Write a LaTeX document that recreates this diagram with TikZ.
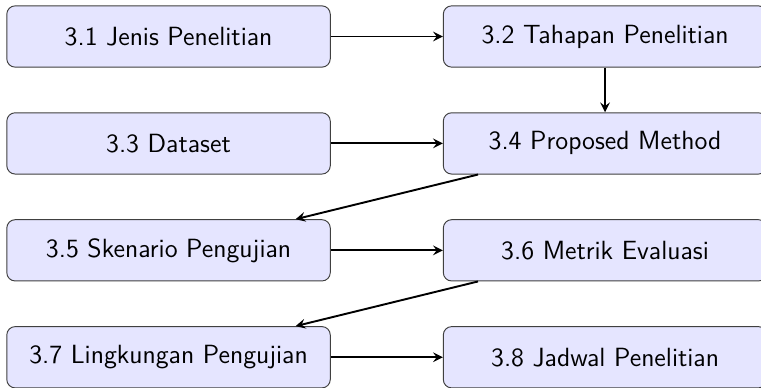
\documentclass[tikz,border=0pt]{standalone}
\usepackage{tikz}
\usepackage{xcolor}
\usetikzlibrary{shapes.geometric, arrows, positioning}
\tikzstyle{sectionbox} = [rectangle, rounded corners=3.5pt, minimum width=4.75cm, minimum height=0.9cm, text centered, draw=black!75, fill=blue!10, font=\sffamily\fontsize{11}{13}\selectfont]
\tikzstyle{arrow} = [thick,->,>=stealth]

\begin{document}
\begin{tikzpicture}[node distance=1.57cm]
        \useasboundingbox (-2.475,-5.16) rectangle (8.70,0.536);

        \node (p31) [sectionbox] {3.1 Jenis Penelitian};
        \node (p32) [sectionbox, right of=p31, xshift=4.84cm] {3.2 Tahapan Penelitian};
        \node (p33) [sectionbox, below of=p31, yshift=0cm] {3.3 Dataset};
        \node (p34) [sectionbox, right of=p33, xshift=4.84cm] {3.4 Proposed Method};
        \node (p35) [sectionbox, below of=p33, yshift=0cm] {3.5 Skenario Pengujian};
        \node (p36) [sectionbox, right of=p35, xshift=4.84cm] {3.6 Metrik Evaluasi};
        \node (p37) [sectionbox, below of=p35, yshift=0cm] {3.7 Lingkungan Pengujian};
        \node (p38) [sectionbox, right of=p37, xshift=4.84cm] {3.8 Jadwal Penelitian};


        \draw [arrow] (p31) -- (p32);
        \draw [arrow] (p32) -- (p34);
        \draw [arrow] (p33) -- (p34);
        \draw [arrow] (p34) -- (p35);
        \draw [arrow] (p35) -- (p36);
        \draw [arrow] (p36) -- (p37);
        \draw [arrow] (p37) -- (p38);


    \end{tikzpicture}
\end{document}
